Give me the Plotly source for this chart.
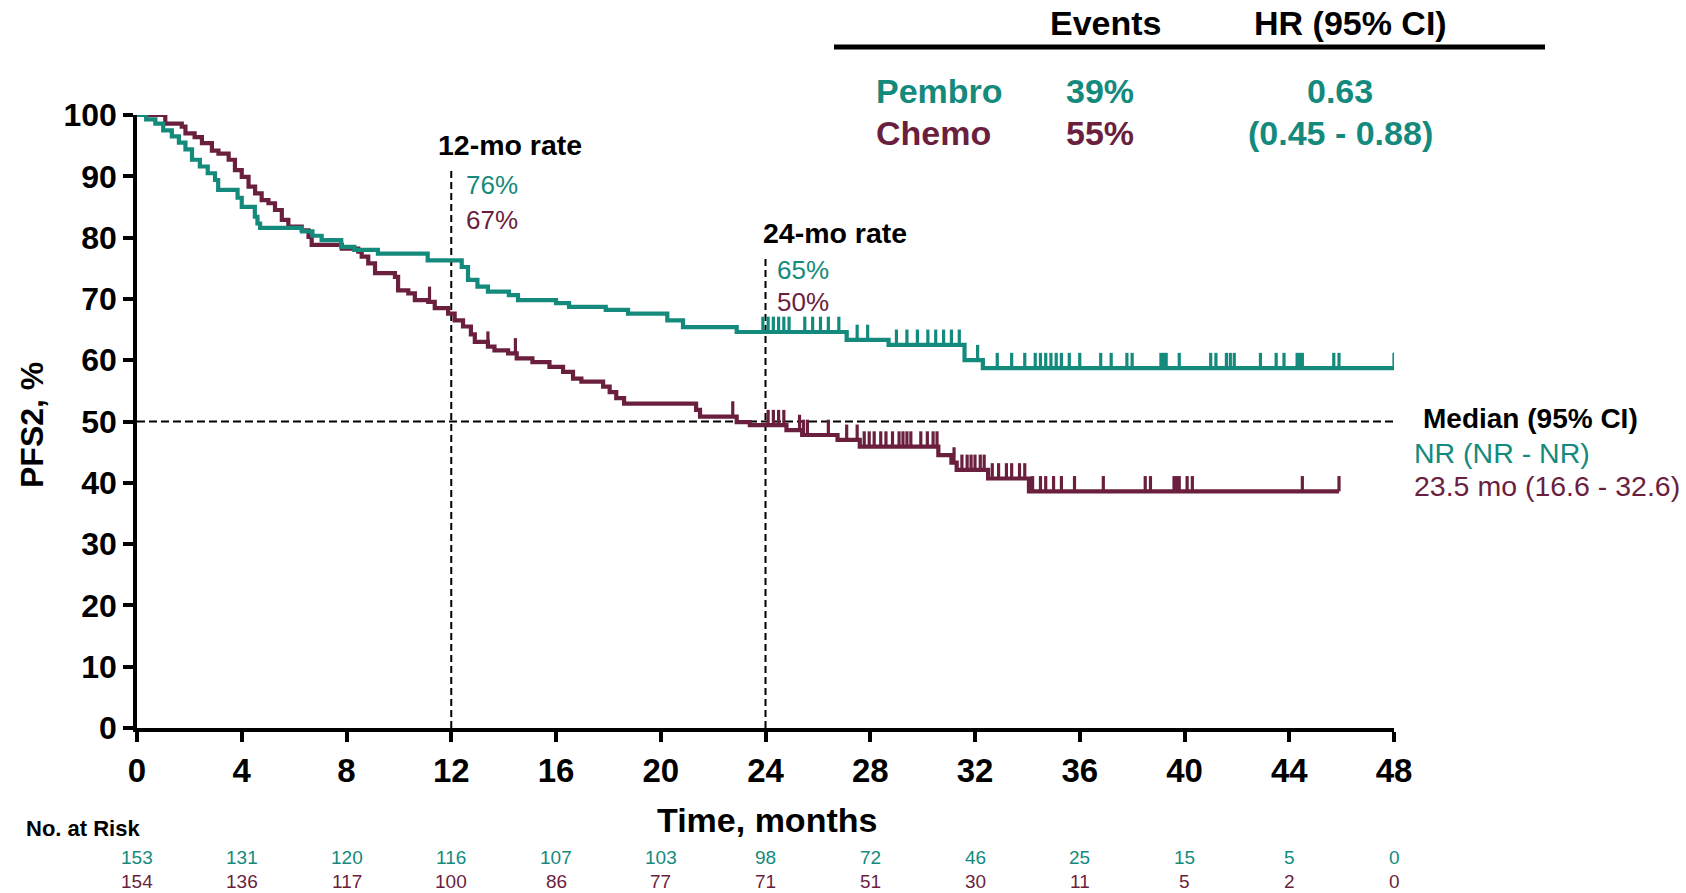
import plotly.graph_objects as go

# ---------------- data ----------------
x_ticks = [0, 4, 8, 12, 16, 20, 24, 28, 32, 36, 40, 44, 48]
y_ticks = [0, 10, 20, 30, 40, 50, 60, 70, 80, 90, 100]

pembro_t = [0, 0.35, 0.7, 1.0, 1.33, 1.6, 1.85, 2.1, 2.4, 2.7, 2.98, 3.1, 3.84, 4.0, 4.5,
            4.6, 4.7, 6.3, 6.7, 7.05, 7.8, 8.3, 9.2, 11.1, 12.4, 12.64, 13.0, 13.4, 14.2, 14.55,
            16.0, 16.5, 17.9, 18.75, 20.25, 20.85, 22.9, 27.1, 28.7, 31.6, 32.3]
pembro_s = [100, 99.3, 98.6, 97.5, 96.5, 95.5, 94.4, 92.7, 91.6, 90.5, 89.4, 87.8, 86.5, 85.0, 83.4,
            82.3, 81.6, 81.0, 80.3, 79.6, 78.5, 78.0, 77.4, 76.3, 75.2, 73.1, 72.0, 71.2, 70.6, 69.8,
            69.3, 68.7, 68.2, 67.6, 66.5, 65.4, 64.6, 63.3, 62.5, 60.0, 58.7]
pembro_end = 48.0
pembro_cens = [23.9, 24.1, 24.3, 24.5, 24.7, 24.9, 25.5, 25.8, 26.1, 26.4, 26.8, 27.5, 27.9, 29.0,
               29.4, 29.8, 30.2, 30.5, 30.8, 31.1, 31.4, 32.1, 32.85, 33.4, 33.9, 34.3, 34.5, 34.7,
               34.9, 35.1, 35.3, 35.6, 36.0, 36.8, 37.2, 37.8, 38.0, 39.1, 39.2, 39.3, 39.8, 41.0,
               41.2, 41.6, 41.75, 41.9, 42.9, 43.5, 43.8, 44.3, 44.4, 44.5, 45.7, 45.9, 48.0]

chemo_t = [0, 1.08, 1.71, 1.85, 2.2, 2.48, 2.86, 3.11, 3.5, 3.74, 4.0, 4.26, 4.51, 4.76, 5.02,
           5.27, 5.53, 5.78, 6.29, 6.55, 6.67, 7.82, 8.45, 8.58, 8.83, 9.09, 9.85, 9.97, 10.36, 10.61,
           11.12, 11.37, 11.88, 12.13, 12.45, 12.75, 12.9, 13.4, 13.65, 14.17, 14.5, 15.1, 15.75, 16.27,
           16.65, 16.97, 17.8, 18.05, 18.3, 18.6, 21.35, 21.5, 22.9, 23.4, 24.8, 25.4, 26.75, 27.6,
           30.6, 31.1, 31.3, 32.5, 34.06]
chemo_s = [100, 98.6, 98.1, 97.0, 96.4, 95.4, 94.2, 93.7, 92.7, 91.0, 89.9, 88.3, 87.2, 86.1, 85.6,
           84.5, 82.9, 81.8, 81.2, 80.1, 78.8, 78.2, 77.7, 76.9, 75.8, 74.2, 73.6, 71.4, 70.9, 69.8,
           69.5, 68.5, 67.6, 66.5, 65.5, 64.2, 63.0, 62.2, 61.6, 61.1, 60.3, 59.7, 58.9, 58.1,
           57.0, 56.5, 55.7, 54.8, 53.8, 52.9, 51.9, 50.8, 49.9, 49.4, 48.6, 47.8, 47.0, 45.9,
           44.5, 43.3, 42.1, 40.7, 38.6]
chemo_end = 45.9
chemo_cens = [0.06, 0.5, 11.17, 13.4, 14.45, 22.75, 24.1, 24.3, 24.5, 24.7, 25.3, 25.45, 25.6, 26.4,
              27.1, 27.5, 27.77, 27.96, 28.15, 28.4, 28.6, 28.85, 29.1, 29.25, 29.4, 29.55, 29.93,
              30.18, 30.4, 30.55, 31.2, 31.5, 31.7, 31.85, 32.0, 32.2, 32.35, 32.66, 32.9, 33.2,
              33.4, 33.7, 33.9, 34.2, 34.5, 34.7, 35.0, 35.3, 35.8, 36.9, 38.5, 38.7, 39.6, 39.7,
              39.8, 40.1, 40.3, 44.5, 45.9]

at_risk_pembro = [153, 131, 120, 116, 107, 103, 98, 72, 46, 25, 15, 5, 0]
at_risk_chemo = [154, 136, 117, 100, 86, 77, 71, 51, 30, 11, 5, 2, 0]

rate_times = [12, 24]
rate_line_tops = [91, 77]
rate_titles = ["12-mo rate", "24-mo rate"]
rate_pembro = ["76%", "65%"]
rate_chemo = ["67%", "50%"]
median_level = 50

events = {"Pembro": "39%", "Chemo": "55%"}
hr_text = ["0.63", "(0.45 - 0.88)"]
median_texts = ["Median (95% CI)", "NR (NR - NR)", "23.5 mo (16.6 - 32.6)"]

# ---------------- style ----------------
TEAL = "#148A7D"
MAROON = "#6B1F3E"
FONT = "Liberation Sans, Arial, sans-serif"
W, H = 1686, 893
L, R, T, B = 137, 1394, 115, 728  # plot area in pixels


def px(x):
    return (x - L) / (R - L)


def py(y):
    return (B - y) / (B - T)


def surv(ts, ss, t):
    v = ss[0]
    for ti, si in zip(ts, ss):
        if ti <= t:
            v = si
    return v


def censor_xy(ts, ss, cens, h=2.5):
    xs, ys = [], []
    for c in cens:
        v = surv(ts, ss, c)
        xs += [c, c, None]
        ys += [v, v + h, None]
    return xs, ys


fig = go.Figure()

# reference lines
for t0, top in zip(rate_times, rate_line_tops):
    fig.add_trace(go.Scatter(x=[t0, t0], y=[0, top], mode="lines",
                             line=dict(color="black", width=2, dash="7px,4px"),
                             hoverinfo="skip", showlegend=False))
fig.add_trace(go.Scatter(x=[0, 48], y=[median_level, median_level], mode="lines",
                         line=dict(color="black", width=2.2, dash="8px,4px"),
                         hoverinfo="skip", showlegend=False))

# curves
for ts, ss, end, cens, col, name in [
    (chemo_t, chemo_s, chemo_end, chemo_cens, MAROON, "Chemo"),
    (pembro_t, pembro_s, pembro_end, pembro_cens, TEAL, "Pembro"),
]:
    fig.add_trace(go.Scatter(x=ts + [end], y=ss + [ss[-1]], mode="lines",
                             line=dict(color=col, width=4.2, shape="hv"),
                             name=name, showlegend=False, cliponaxis=False))
    cx, cy = censor_xy(ts, ss, cens)
    fig.add_trace(go.Scatter(x=cx, y=cy, mode="lines", line=dict(color=col, width=3.2),
                             showlegend=False, hoverinfo="skip", cliponaxis=False))

ann = []


def add(text, x, y, size, color="black", bold=False, xanchor="center", xref="paper", **kw):
    t = f"<b>{text}</b>" if bold else text
    ann.append(dict(text=t, x=x, y=y, xref=xref, yref="paper", xanchor=xanchor, yanchor="middle",
                    showarrow=False, font=dict(family=FONT, size=size, color=color), **kw))


# rate annotations
rate_title_px = [(510, 145), (835, 233)]
rate_val_px = [(464, 185, 220), (775, 270, 302)]
for i in range(2):
    add(rate_titles[i], px(rate_title_px[i][0]), py(rate_title_px[i][1]), 28.5, bold=True)
    add(rate_pembro[i], px(rate_val_px[i][0]), py(rate_val_px[i][1]), 26, TEAL, xanchor="left")
    add(rate_chemo[i], px(rate_val_px[i][0]), py(rate_val_px[i][2]), 26, MAROON, xanchor="left")

# top table
add("Events", px(1106), py(23), 34, bold=True)
add("HR (95% CI)", px(1350), py(23), 34, bold=True)
names = list(events.keys())
cols = [TEAL, MAROON]
rows_y = [91, 133]
for i, nm in enumerate(names):
    add(nm, px(874), py(rows_y[i]), 34, cols[i], bold=True, xanchor="left")
    add(events[nm], px(1100), py(rows_y[i]), 34, cols[i], bold=True)
    add(hr_text[i], px(1340), py(rows_y[i]), 34, TEAL, bold=True)

# median annotations
add(median_texts[0], px(1421), py(418), 28, bold=True, xanchor="left")
add(median_texts[1], px(1412), py(453), 28.5, TEAL, xanchor="left")
add(median_texts[2], px(1412), py(486), 28.5, MAROON, xanchor="left")

# at risk
add("No. at Risk", px(83), py(828), 22, bold=True)
for xt, a, b in zip(x_ticks, at_risk_pembro, at_risk_chemo):
    add(str(a), xt, py(857), 19, TEAL, xref="x")
    add(str(b), xt, py(881), 19, MAROON, xref="x")

# axis titles
add("Time, months", px(767), py(820), 34, bold=True)
add("PFS2, %", px(32), py(425), 32, bold=True, textangle=-90)

fig.update_layout(
    width=W, height=H,
    margin=dict(l=L, r=W - R, t=T, b=H - B, pad=0),
    plot_bgcolor="white", paper_bgcolor="white",
    annotations=ann,
    shapes=[dict(type="line", xref="paper", yref="paper", x0=px(834), x1=px(1545),
                 y0=py(47), y1=py(47), line=dict(color="black", width=5))],
    xaxis=dict(range=[0, 48], tickvals=x_ticks, ticktext=[f"<b>{v}</b>" for v in x_ticks],
               showline=True, linecolor="black", linewidth=3.5, ticks="outside",
               ticklen=10, tickwidth=3.5, tickcolor="black", showgrid=False, zeroline=False,
               tickfont=dict(family=FONT, size=33, color="black"), ticklabelstandoff=1),
    yaxis=dict(range=[0, 100], tickvals=y_ticks, ticktext=[f"<b>{v}</b>" for v in y_ticks],
               showline=True, linecolor="black", linewidth=3.5, ticks="outside",
               ticklen=10, tickwidth=3.5, tickcolor="black", showgrid=False, zeroline=False,
               tickfont=dict(family=FONT, size=32, color="black"), ticklabelstandoff=0),
)

fig.write_html("out.html")
